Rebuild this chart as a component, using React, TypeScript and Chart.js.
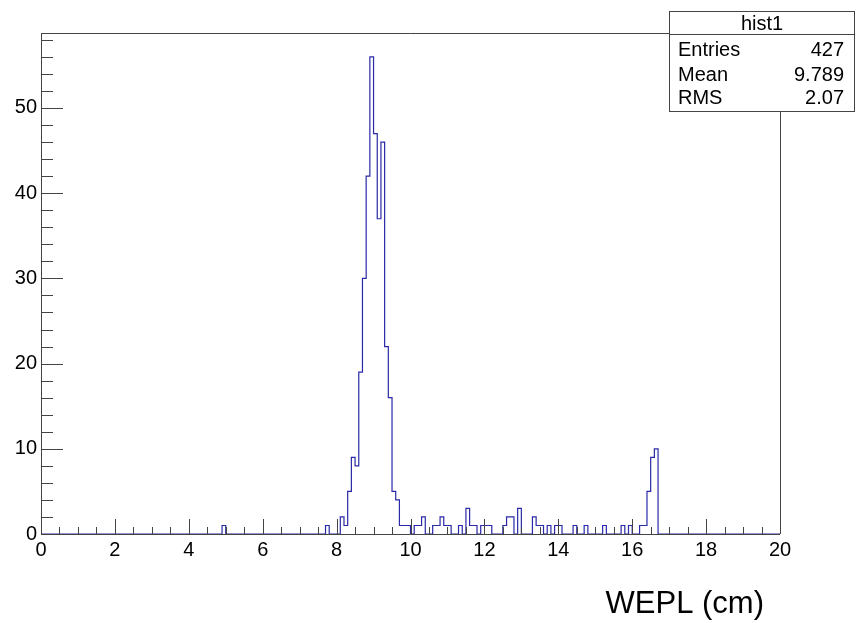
import React, { useEffect, useRef } from 'react';
import { Chart, registerables } from 'chart.js';

Chart.register(...registerables);

// ---- data ----
const BIN_WIDTH = 0.1;
const X_MIN = 0;
const X_MAX = 20;
const Y_MAX = 58.8;
const X_TICK_STEP = 2;
const Y_TICK_STEP = 10;

// lower edge of every non-empty bin and its count
const filledBinStarts = [
  4.9, 7.7,
  8.1, 8.2, 8.3, 8.4, 8.5, 8.6, 8.7, 8.8, 8.9, 9.0, 9.1, 9.2, 9.3, 9.4, 9.5, 9.6,
  9.7, 9.8, 9.9, 10.1, 10.2, 10.3, 10.6, 10.7, 10.8, 10.9, 11.0,
  11.3, 11.5, 11.6, 11.7, 11.9, 12.0, 12.1,
  12.5, 12.6, 12.7, 12.9, 13.3, 13.4, 13.5, 13.7, 13.9, 14.0,
  14.4, 14.7, 15.2, 15.7, 15.9,
  16.2, 16.3, 16.4, 16.5, 16.6,
];
const filledBinCounts = [
  1, 1,
  2, 1, 5, 9, 8, 19, 30, 42, 56, 47, 37, 46, 22, 16, 5, 4,
  1, 1, 1, 1, 1, 2, 1, 1, 2, 1, 1,
  1, 3, 1, 1, 1, 1, 1,
  1, 2, 2, 3, 2, 1, 1, 1, 1, 1,
  1, 1, 1, 1, 1,
  1, 1, 5, 9, 10,
];

const statsTitle = 'hist1';
const statsNames = ['Entries', 'Mean', 'RMS'];
const statsValues = ['427', '9.789', '2.07'];
const xAxisTitle = 'WEPL (cm)';

// ---- styles ----
const HIST_COLOR = '#2a2aa8';
const AXIS_COLOR = '#444444';
const FONT = '"Liberation Sans", Arial, Helvetica, sans-serif';

function buildHistPoints() {
  const nBins = Math.round((X_MAX - X_MIN) / BIN_WIDTH);
  const counts: number[] = new Array(nBins).fill(0);
  filledBinStarts.forEach((s, i) => {
    const idx = Math.round((s - X_MIN) / BIN_WIDTH);
    counts[idx] = filledBinCounts[i];
  });
  // stepped 'after': each point sits at a bin's upper edge and carries that bin's count;
  // the line rises at the previous point's x, then runs across the bin.
  const pts = [{ x: X_MIN, y: 0 }];
  counts.forEach((c, i) => pts.push({ x: X_MIN + (i + 1) * BIN_WIDTH, y: c }));
  return pts;
}

const rootAxesPlugin = {
  id: 'rootAxes',
  afterDatasetsDraw(chart: any) {
    const ctx = chart.ctx;
    const xs = chart.scales.x;
    const ys = chart.scales.y;
    const { left, right, top, bottom } = chart.chartArea;
    ctx.save();
    ctx.strokeStyle = AXIS_COLOR;
    ctx.lineWidth = 1;
    // frame
    ctx.beginPath();
    ctx.moveTo(left, top + 0.5);
    ctx.lineTo(right + 0.5, top + 0.5);
    ctx.lineTo(right + 0.5, bottom);
    ctx.stroke();
    // axis lines
    ctx.beginPath();
    ctx.moveTo(left + 0.5, top);
    ctx.lineTo(left + 0.5, bottom + 0.5);
    ctx.lineTo(right, bottom + 0.5);
    ctx.stroke();
    // x ticks (inside, pointing up)
    ctx.beginPath();
    for (let v = X_MIN; v <= X_MAX + 1e-9; v += 0.5) {
      const px = Math.round(xs.getPixelForValue(v)) + 0.5;
      const major = Math.abs(v / X_TICK_STEP - Math.round(v / X_TICK_STEP)) < 1e-6;
      const len = major ? 15 : 7;
      ctx.moveTo(px, bottom);
      ctx.lineTo(px, bottom - len);
    }
    ctx.stroke();
    // y ticks (inside, pointing right)
    ctx.beginPath();
    for (let v = 0; v <= Y_MAX + 1e-9; v += 2) {
      const py = Math.round(ys.getPixelForValue(v)) + 0.5;
      const major = Math.abs(v / Y_TICK_STEP - Math.round(v / Y_TICK_STEP)) < 1e-6;
      const len = major ? 22 : 12;
      ctx.moveTo(left, py);
      ctx.lineTo(left + len, py);
    }
    ctx.stroke();
    ctx.restore();
  },
  afterDraw(chart: any) {
    const ctx = chart.ctx;
    ctx.save();
    // x axis title
    ctx.fillStyle = '#000';
    ctx.font = `31px ${FONT}`;
    ctx.textAlign = 'right';
    ctx.textBaseline = 'middle';
    ctx.fillText(xAxisTitle, 764, 604);
    // stats box
    const bx = 669.5, by = 11.5, bw = 185, bh = 100;
    ctx.fillStyle = '#fff';
    ctx.fillRect(bx, by, bw, bh);
    ctx.strokeStyle = AXIS_COLOR;
    ctx.lineWidth = 1;
    ctx.strokeRect(bx, by, bw, bh);
    ctx.beginPath();
    ctx.moveTo(bx, 34.5);
    ctx.lineTo(bx + bw, 34.5);
    ctx.stroke();
    ctx.fillStyle = '#000';
    ctx.font = `20px ${FONT}`;
    ctx.textAlign = 'center';
    ctx.textBaseline = 'middle';
    ctx.fillText(statsTitle, 762, 24);
    const rowsY = [50, 75, 98];
    statsNames.forEach((n, i) => {
      ctx.textAlign = 'left';
      ctx.fillText(n, 678, rowsY[i]);
      ctx.textAlign = 'right';
      ctx.fillText(statsValues[i], 844, rowsY[i]);
    });
    ctx.restore();
  },
};

export default function App() {
  const canvasRef = useRef<HTMLCanvasElement | null>(null);
  useEffect(() => {
    document.body.style.margin = '0';
    const canvas = canvasRef.current;
    if (!canvas) return;
    const chart = new Chart(canvas, {
      type: 'line',
      data: {
        datasets: [
          {
            label: statsTitle,
            data: buildHistPoints(),
            stepped: 'after',
            borderColor: HIST_COLOR,
            borderWidth: 1.2,
            pointRadius: 0,
            fill: false,
            tension: 0,
          },
        ],
      },
      options: {
        responsive: false,
        animation: false,
        events: [],
        layout: { padding: { left: 0, right: 76, top: 33, bottom: 0 } },
        plugins: {
          legend: { display: false },
          tooltip: { enabled: false },
          title: { display: false },
        },
        scales: {
          x: {
            type: 'linear',
            min: X_MIN,
            max: X_MAX,
            grid: { display: false, drawTicks: false },
            border: { display: false },
            ticks: {
              stepSize: X_TICK_STEP,
              color: '#000',
              font: { family: FONT, size: 20 },
              padding: 4,
              maxRotation: 0,
              autoSkip: false,
            },
            afterFit(scale: any) {
              scale.height = 89;
            },
          },
          y: {
            type: 'linear',
            min: 0,
            max: Y_MAX,
            grid: { display: false, drawTicks: false },
            border: { display: false },
            ticks: {
              stepSize: Y_TICK_STEP,
              color: '#000',
              font: { family: FONT, size: 20 },
              padding: 4,
            },
            afterBuildTicks(scale: any) {
              scale.ticks = scale.ticks.filter(
                (t: any) => Math.abs(t.value / Y_TICK_STEP - Math.round(t.value / Y_TICK_STEP)) < 1e-6
              );
            },
            afterFit(scale: any) {
              scale.width = 41;
            },
          },
        },
      },
      plugins: [rootAxesPlugin],
    });
    return () => chart.destroy();
  }, []);
  return (
    <div style={{ position: 'absolute', left: 0, top: 0, width: 856, height: 623, background: '#fff' }}>
      <canvas ref={canvasRef} width={856} height={623} style={{ display: 'block' }} />
    </div>
  );
}
